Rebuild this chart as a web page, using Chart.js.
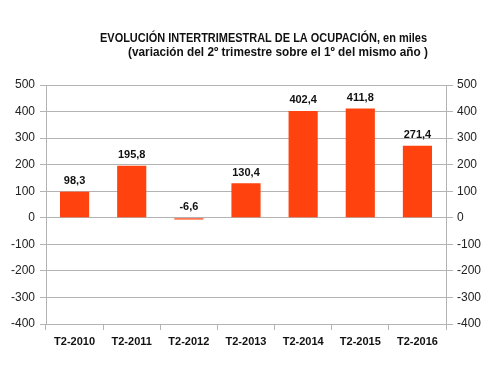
<!DOCTYPE html>
<html>
<head>
<meta charset="utf-8">
<script src="https://cdn.jsdelivr.net/npm/chart.js@4.4.1/dist/chart.umd.min.js"></script>
<style>
  html, body { margin: 0; padding: 0; background: #fff; }
  #wrap { width: 500px; height: 368px; }
</style>
</head>
<body>
<div id="wrap"><canvas id="myChart" width="500" height="368"></canvas></div>
<script>
// data
var categories = ["T2-2010", "T2-2011", "T2-2012", "T2-2013", "T2-2014", "T2-2015", "T2-2016"];
var values = [98.3, 195.8, -6.6, 130.4, 402.4, 411.8, 271.4];
var titleLines = [
    "EVOLUCIÓN INTERTRIMESTRAL DE LA OCUPACIÓN, en miles",
    "(variación del 2º trimestre sobre el 1º del mismo año )"
];
var yMin = -400;
var yMax = 500;
var yStep = 100;

var gridGray = "#b3b3b3";
var labelFont = "'Liberation Sans', Arial, sans-serif";

// title drawn by hand: the original font is a narrow one, so squeeze each line to its width
var titlePlugin = {
    id: "titleLines",
    afterDraw: function(chart) {
        var ctx = chart.ctx;
        var spans = [[100, 427, 42], [128, 428, 56]];
        ctx.save();
        ctx.fillStyle = "#111";
        ctx.textAlign = "left";
        ctx.textBaseline = "alphabetic";
        ctx.font = "bold 12.5px " + labelFont;
        titleLines.forEach(function(line, i) {
            var s = spans[i];
            var w = ctx.measureText(line).width;
            ctx.save();
            ctx.translate(s[0], s[2]);
            ctx.scale((s[1] - s[0]) / w, 1);
            ctx.fillText(line, 0, 0);
            ctx.restore();
        });
        ctx.restore();
    }
};

// value labels above each bar, comma decimals
var valueLabels = {
    id: "valueLabels",
    afterDatasetsDraw: function(chart) {
        var ctx = chart.ctx;
        var meta = chart.getDatasetMeta(0);
        var zeroY = chart.scales.y.getPixelForValue(0);
        ctx.save();
        ctx.fillStyle = "#111";
        ctx.font = "bold 11px " + labelFont;
        ctx.textAlign = "center";
        ctx.textBaseline = "bottom";
        meta.data.forEach(function(bar, i) {
            var top = Math.min(bar.y, zeroY);
            ctx.fillText(values[i].toFixed(1).replace(".", ","), bar.x, top - 5);
        });
        ctx.restore();
    }
};

var ctx = document.getElementById("myChart").getContext("2d");

var ocupacionChart = new Chart(ctx, {
    type: "bar",
    data: {
        labels: categories,
        datasets: [{
            data: values,
            backgroundColor: "#ff420e",
            borderWidth: 0,
            barPercentage: 0.51,
            categoryPercentage: 1.0,
            yAxisID: "y"
        }]
    },
    options: {
        responsive: false,
        animation: false,
        layout: {
            padding: { top: 85, left: 0, right: 0, bottom: 0 }
        },
        plugins: {
            legend: { display: false },
            title: { display: false },
            tooltip: { enabled: false }
        },
        scales: {
            x: {
                offset: true,
                grid: {
                    offset: true,
                    drawOnChartArea: false,
                    color: gridGray,
                    tickLength: 6
                },
                border: { color: gridGray },
                ticks: {
                    color: "#111",
                    font: { family: labelFont, size: 11, weight: "bold" },
                    padding: 5,
                    maxRotation: 0
                },
                afterFit: function(scale) { scale.height = 44; }
            },
            y: {
                position: "left",
                min: yMin,
                max: yMax,
                ticks: {
                    stepSize: yStep,
                    color: "#222",
                    font: { family: labelFont, size: 12 },
                    padding: 5
                },
                grid: { color: gridGray, tickLength: 6 },
                border: { color: gridGray },
                afterFit: function(scale) { scale.width = 46; }
            },
            y2: {
                position: "right",
                min: yMin,
                max: yMax,
                ticks: {
                    stepSize: yStep,
                    color: "#222",
                    font: { family: labelFont, size: 12 },
                    padding: 4
                },
                grid: { drawOnChartArea: false, color: gridGray, tickLength: 7 },
                border: { color: gridGray },
                afterFit: function(scale) { scale.width = 54; }
            }
        }
    },
    plugins: [titlePlugin, valueLabels]
});
</script>
</body>
</html>
